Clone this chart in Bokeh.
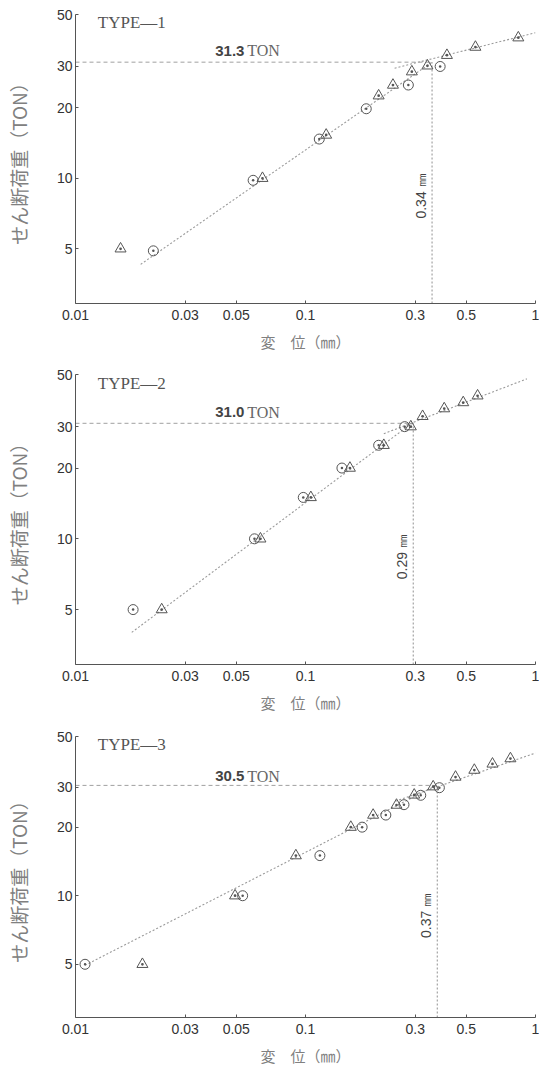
from bokeh.plotting import figure
from bokeh.layouts import column
from bokeh.models import Range1d, FixedTicker, CustomJSTickFormatter, Label
from bokeh.embed import file_html
from bokeh.resources import INLINE
import math

# ---------------- data ----------------
types = ["TYPE—1", "TYPE—2", "TYPE—3"]

c1_x = [0.0218, 0.0592, 0.1148, 0.1837, 0.280, 0.385]
c1_y = [4.9, 9.8, 14.7, 19.8, 25.0, 30.0]
t1_x = [0.0157, 0.065, 0.123, 0.208, 0.240, 0.290, 0.339, 0.412, 0.548, 0.842]
t1_y = [5.0, 10.0, 15.3, 22.5, 25.0, 28.5, 30.2, 33.5, 36.3, 39.8]
lo1_x = [0.0192, 0.355]
lo1_y = [4.29, 31.3]
up1_x = [0.244, 1.0]
up1_y = [29.5, 41.8]

c2_x = [0.0178, 0.060, 0.0978, 0.144, 0.208, 0.270]
c2_y = [5.0, 10.0, 15.0, 20.0, 25.0, 30.0]
t2_x = [0.0237, 0.0637, 0.1055, 0.156, 0.219, 0.287, 0.323, 0.401, 0.485, 0.560]
t2_y = [5.0, 10.0, 15.0, 20.0, 25.0, 30.0, 33.2, 35.8, 38.0, 40.6]
lo2_x = [0.01756, 0.29]
lo2_y = [4.0, 31.0]
up2_x = [0.219, 0.917]
up2_y = [28.0, 47.9]

c3_x = [0.0110, 0.0533, 0.1155, 0.1763, 0.2235, 0.268, 0.317, 0.382]
c3_y = [5.0, 10.0, 15.0, 20.0, 22.6, 25.1, 27.6, 29.8]
t3_x = [0.01954, 0.0494, 0.0908, 0.1574, 0.1968, 0.2487, 0.297, 0.359, 0.449, 0.542, 0.650, 0.778]
t3_y = [5.0, 10.0, 15.0, 20.0, 22.6, 25.0, 27.7, 30.1, 33.2, 35.6, 37.9, 40.0]
lo3_x = [0.011, 0.37]
lo3_y = [4.95, 30.5]
up3_x = [0.246, 1.0]
up3_y = [26.0, 42.3]

yield_load = [31.3, 31.0, 30.5]
yield_disp = [0.355, 0.294, 0.374]
load_text = ["31.3", "31.0", "30.5"]
disp_text = ["0.34 ㎜", "0.29 ㎜", "0.37 ㎜"]

x_ticks = [0.01, 0.03, 0.05, 0.1, 0.3, 0.5, 1]
y_ticks = [5, 10, 20, 30, 50]

panels = [
    (c1_x, c1_y, t1_x, t1_y, lo1_x, lo1_y, up1_x, up1_y),
    (c2_x, c2_y, t2_x, t2_y, lo2_x, lo2_y, up2_x, up2_y),
    (c3_x, c3_y, t3_x, t3_y, lo3_x, lo3_y, up3_x, up3_y),
]

# layout per panel: (height, top border, bottom border, label y, TON y, disp-label y)
layout = [(356, 14, 53, 46, 35.0, 8.4), (360, 18, 52, 46, 34.5, 8.4), (352, 20, 44, 46, 33.5, 8.2)]

NUM_FONT = "'Liberation Sans Narrow', 'Liberation Sans', sans-serif"
SERIF = "'Liberation Serif', serif"
CJK = "'Noto Sans CJK JP', sans-serif"
LINE = "#9a9a9a"

figs = []
for i, (cx, cy, tx, ty, lx, ly, ux, uy) in enumerate(panels):
    h, bt, bb, ty_lab, ton_y, dy = layout[i]
    p = figure(width=539, height=h, x_axis_type="log", y_axis_type="log",
               x_range=Range1d(0.01, 1), y_range=Range1d(2.92, 50),
               output_backend="svg", toolbar_location=None,
               min_border_left=75, min_border_right=4,
               min_border_top=bt, min_border_bottom=bb)
    p.outline_line_color = None
    p.xgrid.visible = False
    p.ygrid.visible = False
    p.background_fill_color = "white"
    p.border_fill_color = "white"

    fmt = CustomJSTickFormatter(code="return parseFloat(tick.toPrecision(2)).toString();")
    for ax, ticks in ((p.xaxis[0], x_ticks), (p.yaxis[0], y_ticks)):
        ax.ticker = FixedTicker(ticks=ticks, minor_ticks=[])
        ax.formatter = fmt
        ax.axis_line_color = "#555555"
        ax.major_tick_line_color = "#555555"
        ax.major_tick_in = 3
        ax.major_tick_out = 0
        ax.minor_tick_line_color = None
        ax.major_label_text_font = NUM_FONT
        ax.major_label_text_font_size = "14px"
        ax.major_label_text_color = "#333333"
        ax.axis_label_text_font = CJK
        ax.axis_label_text_font_style = "normal"
        ax.axis_label_text_color = "#808080"
    p.xaxis.major_label_standoff = 6
    p.yaxis.major_label_standoff = 3
    p.xaxis.axis_label = "変　位（㎜）"
    p.xaxis.axis_label_text_font_size = "15px"
    p.xaxis.axis_label_standoff = 8
    p.yaxis.axis_label = "せん断荷重（TON）"
    p.yaxis.axis_label_text_font_size = "19px"
    p.yaxis.axis_label_standoff = 22

    # yield reference lines
    p.line([0.01, yield_disp[i]], [yield_load[i], yield_load[i]],
           line_color="#a0a0a0", line_width=1, line_dash="4 3")
    p.line([yield_disp[i], yield_disp[i]], [2.92, yield_load[i]],
           line_color="#909090", line_width=1, line_dash="2 2")

    # fitted lines
    p.line(lx, ly, line_color=LINE, line_width=1.1, line_dash="2 2")
    p.line(ux, uy, line_color=LINE, line_width=1.1, line_dash="2 2")

    # data points
    p.scatter(cx, cy, marker="circle_dot", size=10, fill_color=None,
              line_color="#555555", line_width=1)
    p.scatter(tx, ty, marker="triangle_dot", size=11, fill_color=None,
              line_color="#555555", line_width=1)

    p.add_layout(Label(x=0.0125, y=ty_lab, text=types[i], text_font=SERIF,
                       text_font_size="17px", text_color="#555555",
                       text_baseline="middle"))
    p.add_layout(Label(x=0.0405, y=ton_y, text=load_text[i], text_font=NUM_FONT,
                       text_font_size="15px", text_font_style="bold",
                       text_color="#444444", text_baseline="middle"))
    p.add_layout(Label(x=0.0405, y=ton_y, x_offset=32, text="TON", text_font=SERIF,
                       text_font_size="16px", text_color="#666666",
                       text_baseline="middle"))
    p.add_layout(Label(x=yield_disp[i], y=dy, x_offset=-3, text=disp_text[i],
                       text_font=NUM_FONT, text_font_size="14px", text_color="#444444",
                       angle=math.pi / 2, text_align="center", text_baseline="bottom"))
    figs.append(p)

page = column(*figs, spacing=0)
open("out.html", "w").write(file_html(page, INLINE))
